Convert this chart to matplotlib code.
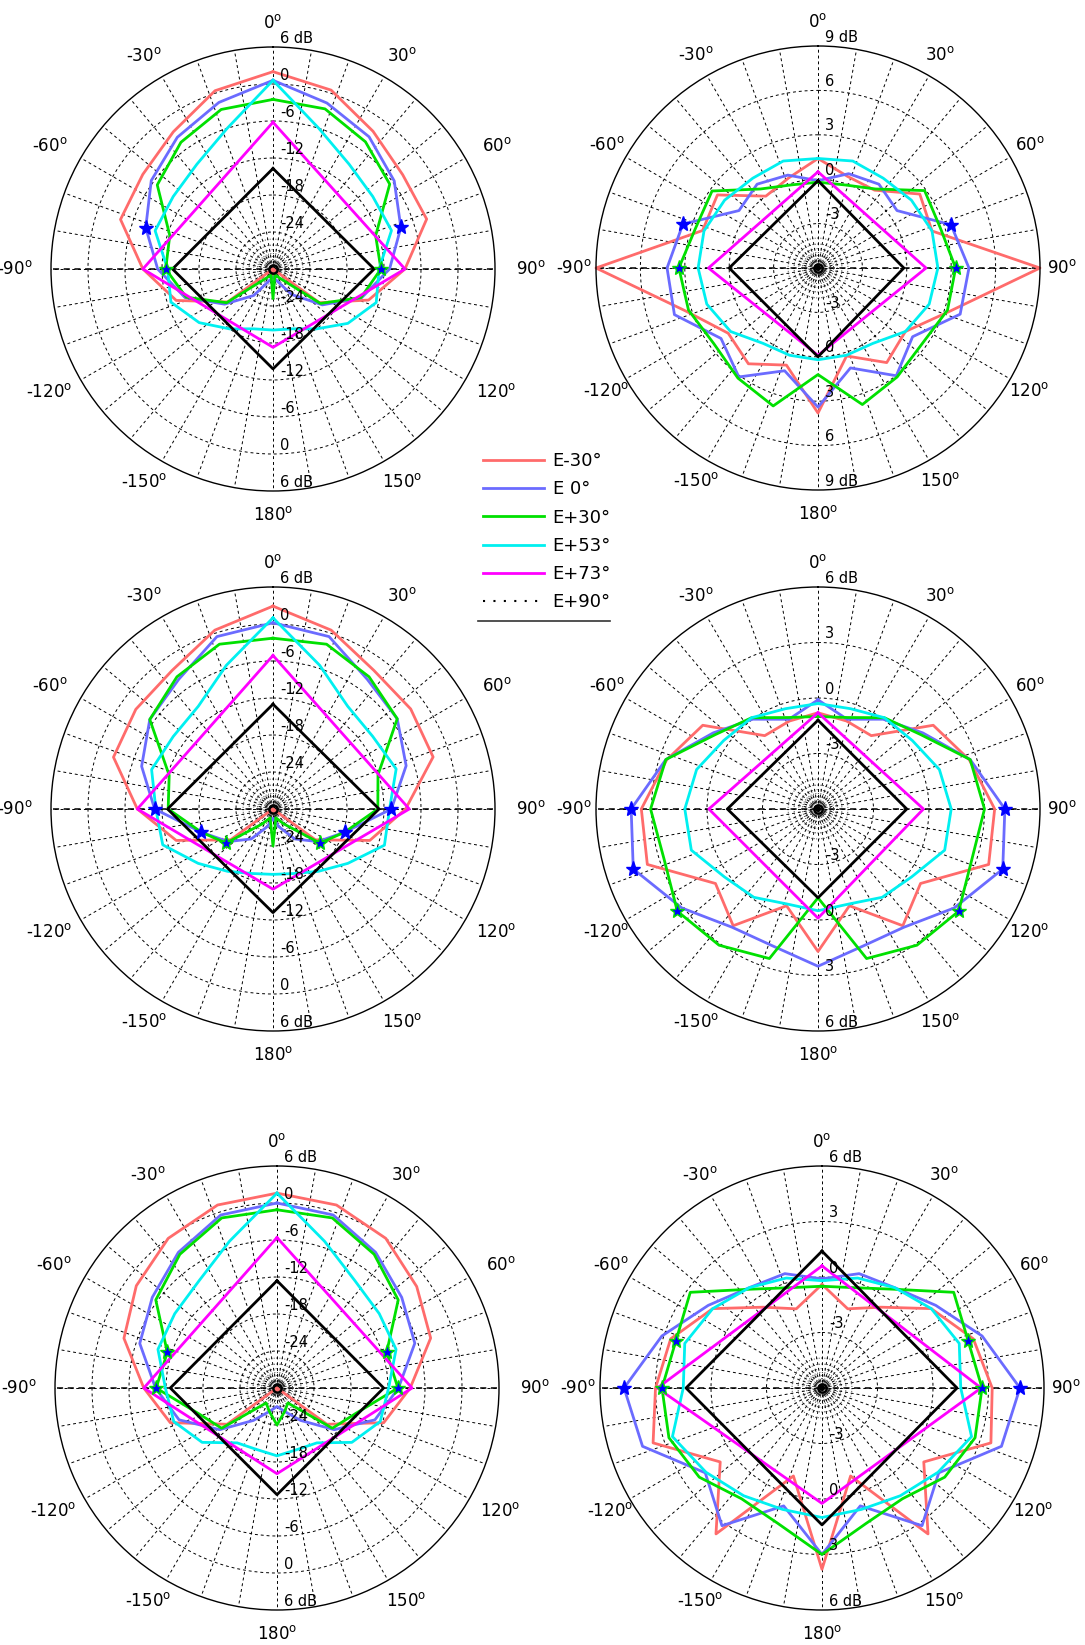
import numpy as np
import matplotlib
matplotlib.use("Agg")
import matplotlib.pyplot as plt
from matplotlib.lines import Line2D

# directions of the sampled cuts, degrees clockwise from boresight
theta_20 = np.arange(0, 360, 18)
theta_4 = [0, 90, 180, 270]

series_names = ["E-30°", "E 0°", "E+30°", "E+53°", "E+73°", "E+90°"]
series_colors = ["#ff6b6b", "#6b6bff", "#00e000", "#00f0f0", "#ff00ff", "black"]

# ---- panel 1 (top left), gain in dB
p1_red = [2.0, 0.5, -2.4, -4.0, -3.8, -8.6, -13.7, -20.7, -30.0, -30.0, -28.8,
          -30.0, -30.0, -20.9, -13.5, -8.9, -4.0, -3.9, -2.5, 0.4]
p1_blue = [0.6, -1.7, -3.5, -5.7, -8.2, -11.1, -14.9, -20.1, -24.9, -28.0, -28.7,
           -28.0, -24.7, -20.3, -15.0, -11.3, -8.3, -5.6, -3.6, -1.6]
p1_green = [-2.5, -2.7, -4.5, -6.6, -12.5, -12.5, -15.0, -20.5, -28.2, -29.0, -25.2,
            -29.0, -28.2, -20.7, -15.2, -12.6, -12.4, -6.8, -4.6, -2.8]
p1_cyan = [0.6, -6.0, -9.0, -10.0, -9.8, -12.8, -12.4, -15.0, -18.0, -19.8, -20.1,
           -19.8, -18.0, -15.2, -12.6, -12.9, -9.9, -10.0, -9.0, -6.0]
p1_magenta = [-6.2, -8.6, -17.3, -8.9]
p1_black = [-13.7, -13.6, -13.8, -13.7]

# ---- panel 2 (top right)
p2_red = [1.4, 0.5, 0.5, 2.5, 2.1, 9.0, 3.4, 1.3, 1.9, 0.25, 3.8,
          0.9, 2.0, 1.5, 3.4, 9.0, 2.2, 2.4, 0.0, 0.4]
p2_blue = [-0.1, 0.7, 1.0, 0.6, 3.45, 4.2, 4.1, 1.9, 3.0, 1.1, 3.4,
           1.3, 3.1, 2.1, 4.2, 4.2, 3.6, 0.6, 1.0, 0.6]
p2_green = [-0.2, -0.1, 0.6, 2.9, 2.7, 3.3, 3.2, 2.7, 3.1, 3.7, 1.2,
            3.8, 3.2, 2.7, 3.2, 3.4, 2.7, 2.85, 0.6, -0.1]
p2_cyan = [1.4, 1.6, 1.5, 1.8, 2.1, 2.1, 1.9, 1.3, 0.3, 0.2, 0.2,
           0.2, 0.3, 1.3, 1.9, 2.1, 2.1, 1.8, 1.5, 1.6]
p2_magenta = [0.5, 1.3, -0.1, 1.4]
p2_black = [-0.1, -0.2, 0.0, 0.0]

# ---- panel 3 (middle left)
p3_red = [2.9, 0.5, -2.2, -2.4, -2.7, -8.5, -13.5, -21.5, -30.0, -30.0, -29.5,
          -30.0, -30.0, -21.5, -13.5, -8.0, -2.8, -2.5, -2.2, 0.5]
p3_blue = [0.2, -0.6, -4.0, -5.1, -7.3, -10.8, -17.8, -21.0, -24.0, -27.0, -28.5,
           -27.0, -24.0, -21.0, -17.8, -10.8, -7.6, -5.3, -4.0, -0.6]
p3_green = [-2.3, -1.9, -3.5, -5.1, -12.1, -13.0, -17.8, -20.6, -27.0, -28.5, -24.0,
            -28.5, -27.0, -20.6, -17.8, -13.0, -12.3, -5.3, -3.5, -1.9]
p3_cyan = [1.0, -5.5, -9.4, -10.0, -9.0, -11.1, -11.0, -15.0, -17.5, -19.0, -19.4,
           -19.0, -17.5, -15.0, -11.2, -11.0, -9.3, -10.0, -9.4, -5.5]
p3_magenta = [-5.1, -7.9, -17.0, -8.0]
p3_black = [-13.0, -12.8, -13.2, -12.9]

# ---- panel 4 (middle right)
p4_red = [-0.8, -1.0, -1.1, 1.7, 2.6, 3.55, 3.7, 0.85, 1.8, -0.5, 1.7,
          -0.5, 1.8, 0.85, 3.7, 3.55, 2.6, 1.7, -1.1, -1.0]
p4_blue = [-0.1, -0.9, 0.0, 1.0, 2.65, 4.1, 4.5, 3.1, 1.9, 1.8, 2.5,
           1.8, 1.9, 3.1, 4.5, 4.1, 2.65, 1.0, 0.0, -0.9]
p4_green = [-1.0, -0.8, 0.1, 0.85, 2.65, 3.0, 2.75, 3.4, 3.1, 2.5, -1.2,
            2.5, 3.1, 3.4, 2.75, 3.05, 2.65, 0.85, 0.1, -0.8]
p4_cyan = [-0.3, -0.3, 0.1, 0.3, 0.9, 1.2, 1.2, 0.25, -0.1, -0.6, -0.5,
           -0.6, -0.1, 0.25, 1.2, 1.2, 0.9, 0.3, 0.1, -0.3]
p4_magenta = [-0.8, -0.3, -0.1, -0.1]
p4_black = [-1.2, -1.2, -1.2, -1.1]

# ---- panel 5 (bottom left)
p5_red = [1.6, 1.2, 0.0, -2.0, -3.8, -8.4, -11.8, -20.0, -30.0, -30.0, -29.5,
          -30.0, -30.0, -20.0, -11.8, -8.4, -3.9, -1.8, 0.0, 1.2]
p5_blue = [0.0, -0.5, -2.8, -5.0, -6.5, -10.3, -13.3, -18.5, -23.5, -26.0, -27.0,
           -26.0, -23.5, -18.5, -13.3, -10.3, -6.6, -5.0, -2.8, -0.5]
p5_green = [-1.1, -1.0, -3.2, -5.7, -11.3, -10.4, -16.6, -18.9, -27.0, -26.0, -24.0,
            -26.0, -27.0, -18.9, -16.6, -10.4, -11.3, -5.7, -3.2, -1.0]
p5_cyan = [1.6, -5.0, -8.5, -9.5, -9.7, -11.9, -12.4, -15.0, -19.0, -19.5, -19.0,
           -19.5, -19.0, -15.0, -12.4, -11.9, -9.7, -9.5, -8.5, -5.0]
p5_magenta = [-5.6, -8.1, -16.1, -8.4]
p5_black = [-12.6, -12.7, -12.7, -12.7]

# ---- panel 6 (bottom right)
p6_red = [-0.4, -1.5, -0.6, 1.3, 2.6, 3.2, 3.6, 0.8, 3.75, -1.0, 3.8,
          -1.0, 3.75, 0.8, 3.6, 3.0, 2.6, 1.3, -0.6, -1.5]
p6_blue = [-0.1, 0.5, 0.7, 1.6, 3.1, 4.7, 4.2, 1.8, 3.2, 0.7, 3.0,
           0.7, 3.2, 1.8, 4.2, 4.7, 3.1, 1.6, 0.7, 0.5]
p6_green = [-0.5, -0.3, 0.6, 2.8, 2.3, 2.65, 2.7, 2.2, 1.4, 1.7, 3.0,
            1.7, 1.4, 2.2, 2.7, 2.65, 2.3, 2.8, 0.6, -0.3]
p6_cyan = [-0.2, 0.25, 0.7, 1.3, 1.8, 1.5, 2.5, 1.75, 1.2, 0.9, 1.0,
           0.9, 1.2, 1.75, 2.5, 1.5, 1.8, 1.3, 0.7, 0.25]
p6_magenta = [0.6, 2.6, 0.24, 2.9]
p6_black = [1.4, 1.3, 1.4, 1.35]

# radial span (dB) and dashed ring levels for each panel
p_ranges = [(-30, 6), (-6, 9), (-30, 6), (-6, 6), (-30, 6), (-6, 6)]
p_rings = [[0, -6, -12, -18, -24], [6, 3, 0, -3], [0, -6, -12, -18, -24],
           [3, 0, -3], [0, -6, -12, -18, -24], [3, 0, -3]]

# directions marked with a star: (series index, angles)
p_stars = [
    [(1, [72, 288]), (2, [90, 270])],
    [(1, [72, 288]), (2, [90, 270])],
    [(1, [90, 270, 108, 252]), (2, [126, 234])],
    [(1, [90, 270, 108, 252]), (2, [126, 234])],
    [(2, [72, 288, 90, 270])],
    [(1, [90, 270]), (2, [72, 288, 90, 270])],
]

panels = [
    (p1_red, p1_blue, p1_green, p1_cyan, p1_magenta, p1_black),
    (p2_red, p2_blue, p2_green, p2_cyan, p2_magenta, p2_black),
    (p3_red, p3_blue, p3_green, p3_cyan, p3_magenta, p3_black),
    (p4_red, p4_blue, p4_green, p4_cyan, p4_magenta, p4_black),
    (p5_red, p5_blue, p5_green, p5_cyan, p5_magenta, p5_black),
    (p6_red, p6_blue, p6_green, p6_cyan, p6_magenta, p6_black),
]

# panel centres and radius in pixels
W, H = 1085, 1645
centres = [(273, 269), (818, 268), (273, 809), (818, 809), (277, 1388), (822, 1388)]
R = 222

angle_labels = {0: "0", 30: "30", 60: "60", 90: "90", 120: "120", 150: "150",
                180: "180", 210: "-150", 240: "-120", 270: "-90", 300: "-60", 330: "-30"}

dash = (0, (3, 3))
inner_fracs = [0.135, 0.108, 0.087, 0.07, 0.056, 0.042]


def draw_panel(ax, data, rlim, rings, stars, label_dx):
    rmin, rmax = rlim
    ax.set_theta_zero_location("N")
    ax.set_theta_direction(-1)
    ax.set_rlim(rmin, rmax)
    ax.set_axisbelow(True)

    tick_deg = np.arange(0, 360, 10)
    ax.set_thetagrids(tick_deg, labels=[""] * len(tick_deg))
    ax.set_rgrids(rings, labels=[""] * len(rings))
    ax.xaxis.grid(True, color="black", lw=0.7, ls=dash)
    ax.yaxis.grid(True, color="black", lw=0.7, ls=dash)
    ax.spines["polar"].set_linewidth(1.0)

    # angle labels just outside the rim
    for d, txt in angle_labels.items():
        t = np.deg2rad(d)
        ax.annotate(txt + r"$^{\rm o}$", xy=(t, rmax),
                    xytext=(label_dx * np.sin(t), 17 * np.cos(t)), textcoords="offset points",
                    ha="center", va="center", fontsize=12, annotation_clip=False)

    circ = np.linspace(0, 2 * np.pi, 240)
    for f in inner_fracs:
        ax.plot(circ, np.full_like(circ, rmin + f * (rmax - rmin)), color="black",
                lw=0.6, ls=(0, (1, 2)), zorder=1)
    for a in (np.pi / 2, 3 * np.pi / 2):
        ax.plot([a, a], [rmin, rmax], color="black", lw=1.1, ls=(0, (4, 3)), zorder=1)
    ax.plot([0], [rmin], marker="o", ms=6, mfc="none", mec="black", mew=1.8, zorder=3)

    # radial labels on both ends of the boresight axis
    for v in [rmax] + list(rings):
        txt = f"{v} dB" if v == rmax else f"{v}"
        for th in (0, np.pi):
            ax.annotate(txt, xy=(th, v), xytext=(5, 1), textcoords="offset points",
                        ha="left", va="bottom", fontsize=10.5, zorder=4)

    for k, (vals, color) in enumerate(zip(data, series_colors)):
        th_deg = theta_20 if len(vals) == 20 else theta_4
        th = np.deg2rad(np.append(th_deg, th_deg[0]))
        r = np.clip(np.append(vals, vals[0]), rmin, rmax)
        ax.plot(th, r, color=color, lw=2.0, zorder=2 + 0.01 * k, clip_on=False)

    for k, angles in stars:
        vals = data[k]
        idx = [int(a // 18) for a in angles]
        edge = "#00e000" if k == 2 else "blue"
        ax.plot(np.deg2rad(angles), [vals[i] for i in idx], ls="none", marker="*",
                ms=11, mfc="blue", mec=edge, mew=1.0, zorder=5, clip_on=False)


fig = plt.figure(figsize=(W / 100, H / 100), dpi=100)
for i in range(6):
    cx, cy = centres[i]
    ax = fig.add_axes([(cx - R) / W, 1 - (cy + R) / H, 2 * R / W, 2 * R / H],
                      projection="polar")
    draw_panel(ax, panels[i], p_ranges[i], p_rings[i], p_stars[i],
               label_dx=26 if i % 2 == 0 else 16)

handles = [Line2D([], [], color=c, lw=2.0) for c in series_colors[:5]]
handles.append(Line2D([], [], color="black", lw=1.5, ls=(0, (1, 4))))
fig.legend(handles, series_names, loc="upper left",
           bbox_to_anchor=(483 / W, 1 - 452 / H), frameon=False, fontsize=13,
           handlelength=3.4, handletextpad=0.45, labelspacing=0.57,
           borderpad=0, borderaxespad=0)
fig.add_artist(Line2D([478 / W, 610 / W], [1 - 621 / H] * 2, color="#333333", lw=1.2))

fig.savefig("out.png", dpi=100)
